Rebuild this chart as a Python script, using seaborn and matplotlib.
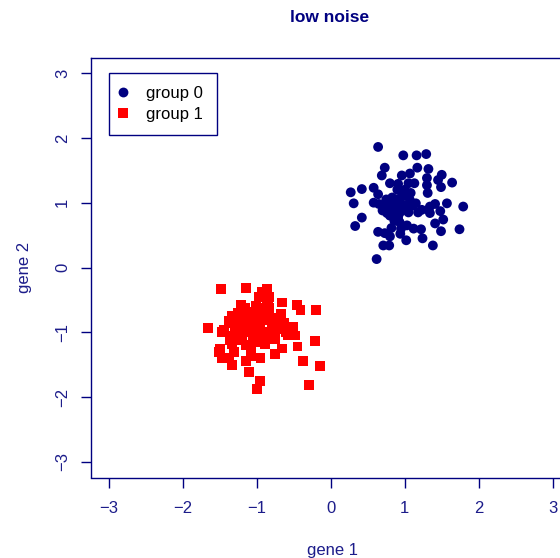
import numpy as np
import pandas as pd
import seaborn as sns
import matplotlib.pyplot as plt

# group 0 (navy circles)
g0_x = [0.64, 0.98, 1.16, 1.29, 0.73, 1.17, 0.69, 0.96, 1.07, 1.32, 1.50, 1.30, 1.45, 1.64,
        0.80, 0.91, 1.05, 1.30, 1.49, 0.58, 0.42, 0.27, 1.31, 0.64, 0.31, 0.58, 0.96, 1.07,
        1.15, 0.82, 0.71, 0.89, 0.80, 0.94, 0.76, 0.85, 0.91, 0.98, 1.03, 1.41, 1.34, 1.57,
        1.79, 1.23, 1.18, 1.48, 1.34, 0.42, 1.52, 1.41, 0.33, 1.03, 1.12, 1.22, 1.74, 1.49,
        0.82, 0.64, 0.73, 0.94, 0.80, 1.24, 1.02, 0.71, 0.79, 1.38, 0.62,
        0.85, 0.90, 0.95, 0.78, 0.88, 1.00, 0.83, 0.92, 0.97, 0.75, 1.05, 0.86, 0.93, 1.10,
        0.70, 0.80, 1.00, 0.90, 1.08, 0.65, 0.95, 1.13]
g0_y = [1.86, 1.73, 1.73, 1.75, 1.54, 1.54, 1.42, 1.42, 1.45, 1.52, 1.43, 1.38, 1.35, 1.31,
        1.30, 1.29, 1.30, 1.27, 1.24, 1.23, 1.21, 1.16, 1.15, 1.13, 0.99, 1.00, 1.09, 1.04,
        0.99, 1.02, 0.96, 0.94, 0.89, 0.86, 0.84, 0.78, 0.76, 0.89, 0.96, 0.98, 0.94, 0.99,
        0.94, 0.89, 0.85, 0.87, 0.84, 0.77, 0.74, 0.68, 0.64, 0.65, 0.60, 0.59, 0.59, 0.56,
        0.61, 0.55, 0.53, 0.52, 0.48, 0.45, 0.42, 0.34, 0.34, 0.34, 0.13,
        1.00, 1.05, 0.98, 0.95, 0.88, 0.92, 1.08, 0.82, 1.12, 1.05, 0.85, 0.72, 0.70, 0.95,
        0.88, 0.80, 1.20, 1.20, 1.15, 0.98, 0.60, 1.30]

# group 1 (red squares)
g1_x = [-1.48, -1.14, -0.93, -0.86, -0.83, -0.86, -0.66, -1.21, -0.46, -0.41, -0.20, -1.16,
        -1.01, -1.00, -0.83, -0.91, -1.07, -1.34, -1.27, -1.13, -1.37, -0.98, -0.89, -0.73,
        -0.63, -1.19, -1.35, -1.02, -0.80, -0.72, -0.51, -1.66, -1.16, -1.09, -1.44, -1.47,
        -0.82, -0.85, -0.58, -0.48, -1.32, -1.36, -1.25, -0.96, -0.98, -1.05, -0.89, -1.14,
        -1.34, -0.21, -0.66, -0.45, -1.50, -1.51, -1.31, -1.47, -1.38, -1.08, -0.95, -0.75,
        -1.14, -1.34, -0.38, -0.14, -1.10, -0.96, -0.29, -1.00,
        -1.05, -0.95, -1.10, -0.88, -1.02, -0.92, -1.18, -0.78, -0.70, -1.20, -0.85, -0.97,
        -0.90, -1.08, -0.60, -1.30, -0.75, -0.98, -1.25, -0.67]
g1_y = [-0.33, -0.31, -0.37, -0.33, -0.45, -0.50, -0.54, -0.57, -0.58, -0.66, -0.66, -0.63,
        -0.59, -0.65, -0.62, -0.71, -0.68, -0.75, -0.78, -0.76, -0.82, -0.80, -0.81, -0.82,
        -0.86, -0.84, -0.85, -0.91, -0.91, -0.89, -0.91, -0.93, -0.96, -0.99, -0.96, -1.00,
        -0.99, -1.07, -1.05, -1.05, -1.06, -1.12, -1.12, -1.06, -1.15, -1.15, -1.18, -1.20,
        -1.18, -1.13, -1.25, -1.22, -1.25, -1.31, -1.31, -1.39, -1.39, -1.36, -1.39, -1.33,
        -1.44, -1.50, -1.44, -1.52, -1.61, -1.75, -1.81, -1.88,
        -0.75, -0.90, -0.85, -0.70, -1.00, -1.08, -0.95, -0.78, -0.95, -1.05, -0.55, -0.45,
        -0.42, -1.25, -1.00, -0.90, -1.10, -0.62, -0.70, -0.72]

ticks = [-3, -2, -1, 0, 1, 2, 3]
NAVY = '#000080'
TXT = '#1c1c8a'

df = pd.concat([
    pd.DataFrame({'gene 1': g0_x, 'gene 2': g0_y, 'group': 'group 0'}),
    pd.DataFrame({'gene 1': g1_x, 'gene 2': g1_y, 'group': 'group 1'}),
], ignore_index=True)

sns.set_style('ticks')
plt.rcParams['font.family'] = ['Liberation Sans', 'DejaVu Sans']

fig = plt.figure(figsize=(5.6, 5.58), dpi=100)
# plot region runs past the right edge, like the cropped original
ax = fig.add_axes([91 / 560, 80.5 / 558, 479.5 / 560, 420 / 558])

sns.scatterplot(data=df, x='gene 1', y='gene 2', hue='group', style='group',
                palette={'group 0': NAVY, 'group 1': '#ff0000'},
                markers={'group 0': 'o', 'group 1': 's'},
                s=50, linewidth=0, ax=ax)

ax.set_xlim(-3.24, 3.24)
ax.set_ylim(-3.24, 3.24)
ax.set_xticks(ticks)
ax.set_yticks(ticks)
ax.set_xticklabels([str(t).replace('-', '\u2212') for t in ticks])
ax.set_yticklabels([str(t).replace('-', '\u2212') for t in ticks], rotation=90, va='center')
ax.tick_params(length=7, width=1, color=NAVY, labelcolor=TXT, labelsize=12)
ax.tick_params(axis='x', pad=10)
ax.tick_params(axis='y', pad=8)

for sp in ax.spines.values():
    sp.set_color(NAVY)
    sp.set_linewidth(1)

ax.set_xlabel('gene 1', color=TXT, fontsize=12)
ax.set_ylabel('gene 2', color=TXT, fontsize=12)
ax.xaxis.set_label_coords(0.503, -0.155)
ax.yaxis.set_label_coords(-0.123, 0.5)

leg = ax.legend(loc='upper left', bbox_to_anchor=(0.0375, 0.964), fontsize=12,
                frameon=True, fancybox=False, framealpha=1, edgecolor=NAVY,
                handletextpad=1.35, borderpad=0.8, labelspacing=0.36, handlelength=0.1,
                borderaxespad=0)
leg.get_frame().set_linewidth(1)
for t in leg.get_texts():
    t.set_color('#000000')

fig.text(330 / 560, 1 - 18 / 558, 'low noise', ha='center', va='center',
         fontsize=12.5, fontweight='bold', color=NAVY)

fig.savefig('out.png', dpi=100)
